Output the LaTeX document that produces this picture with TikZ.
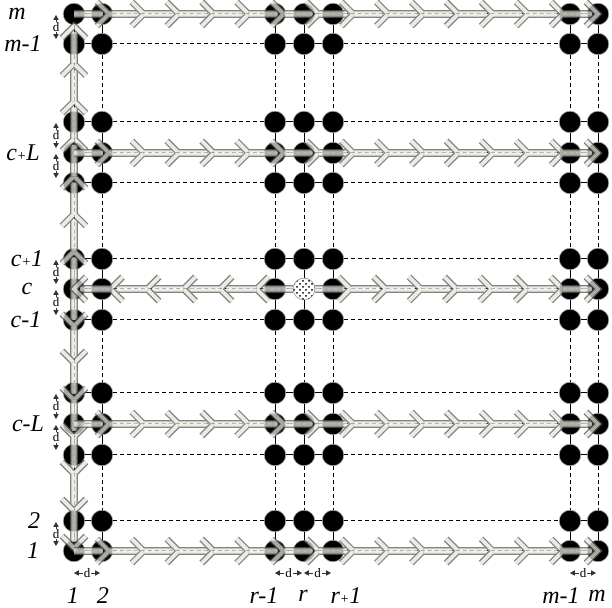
\documentclass[tikz,border=0pt]{standalone}
\usepackage{fontspec}
\setmainfont{Liberation Serif}
\usepackage{xcolor}
\usepackage{tikz}
\usetikzlibrary{calc,arrows.meta,patterns}

\definecolor{edgegray}{HTML}{5A5A5A}
\definecolor{shaftlight}{HTML}{E4E4DA}

\newcommand\smallplus{{\fontsize{7}{7}\selectfont +}}

% one piece of a hollow arrow, from (#1) to the tip (#2)
\newcommand\arrowpiece[2]{%
  \draw[shaftout] (#1) -- ($(#2)!3pt!(#1)$);
  \draw[shaftin] (#1) -- ($(#2)!3pt!(#1)$);
  \draw[shaftmid] (#1) -- ($(#2)!3pt!(#1)$);
  \draw[chevout] ($(#2)!8.5pt!45:(#1)$) -- (#2) -- ($(#2)!8.5pt!-45:(#1)$);
  \draw[chevin] ($(#2)!8.5pt!45:(#1)$) -- (#2) -- ($(#2)!8.5pt!-45:(#1)$);
}
% a run of #3 pieces from (#1) to (#2)
\newcommand\arrowrun[3]{%
  \begin{scope}[transparency group, opacity=0.75]
    \foreach \k [evaluate=\k as \p using (\k-1)/#3, evaluate=\k as \q using \k/#3] in {1,...,#3}{
      \coordinate (pa) at ($(#1)!\p!(#2)$);
      \coordinate (pb) at ($(#1)!\q!(#2)$);
      \arrowpiece{pa}{pb}
    }
  \end{scope}}

\begin{document}
\begin{tikzpicture}[x=0.5pt, y=-0.5pt]
    % Define styles
    \tikzstyle{dot} = [circle, fill=black, draw=gray!70, line width=0.3pt, minimum size=10.8pt, inner sep=0pt]
    \tikzstyle{link} = [line width=0.5pt, black]
    \tikzstyle{gap} = [line width=0.5pt, black, dash pattern=on 2pt off 1.5pt]
    \tikzstyle{shaftout} = [line width=3.8pt, edgegray]
    \tikzstyle{shaftin} = [line width=2.6pt, shaftlight]
    \tikzstyle{shaftmid} = [line width=0.5pt, white, dash pattern=on 2pt off 1.2pt]
    \tikzstyle{chevout} = [line width=3.2pt, edgegray, line join=miter]
    \tikzstyle{chevin} = [line width=1.9pt, shaftlight, line join=miter]
    \tikzstyle{dim} = [line width=0.4pt, gray!40!black, {Triangle[width=2.6pt,length=2.4pt]}-{Triangle[width=2.6pt,length=2.4pt]}]
    \tikzstyle{dlabel} = [fill=white, inner sep=0.4pt, font=\fontsize{6.5}{6.5}\selectfont, text=black]
    \tikzstyle{idx} = [font=\fontsize{12}{12}\selectfont\itshape]

    \useasboundingbox (0,0) rectangle (612,608);

    % Grid nodes
    \foreach \x [count=\i] in {74,102,275,304,333,570,598}
      \foreach \y [count=\j] in {14,44,122,153,183,259,289,320,393,424,455,521,551}
        \node[dot] (n-\i-\j) at (\x,\y) {};

    % Vertical links
    \foreach \i in {1,...,7}
      \foreach \j/\k/\s in {1/2/link,2/3/gap,3/4/link,4/5/link,5/6/gap,6/7/link,7/8/link,8/9/gap,9/10/link,10/11/link,11/12/gap,12/13/link}
        \draw[\s] (n-\i-\j) -- (n-\i-\k);
    % Horizontal links
    \foreach \j in {1,...,13}
      \foreach \i/\k/\s in {1/2/link,2/3/gap,3/4/link,4/5/link,5/6/gap,6/7/link}
        \draw[\s] (n-\i-\j) -- (n-\k-\j);

    % Arrow runs
    \coordinate (top) at ($(n-1-1)+(0,12)$);
    \coordinate (bot) at ($(n-1-13)+(0,-3)$);
    \coordinate (cw) at ($(n-4-7)+(-11,0)$);
    \coordinate (ce) at ($(n-4-7)+(11,0)$);
    \arrowrun{n-1-7}{top}{7}
    \arrowrun{n-1-7}{bot}{7}
    \arrowrun{cw}{n-1-7}{6}
    \arrowrun{ce}{n-7-7}{8}
    \foreach \j in {1,4,10,13}{
      \arrowrun{n-1-\j}{n-7-\j}{15}
    }

    % Centre node
    \node[dot, fill=white, postaction={pattern=crosshatch dots}] (cen) at (n-4-7) {};

    % Spacing marks
    \foreach \j/\k in {1/2,3/4,4/5,6/7,7/8,9/10,10/11,12/13}
      \draw[dim] ($(n-1-\j)+(-18,1)$) -- ($(n-1-\k)+(-18,-5)$) node[midway, dlabel] {d};
    \foreach \i/\k in {1/2,3/4,4/5,6/7}
      \draw[dim] ($(n-\i-13)+(0,22)$) -- ($(n-\k-13)+(-2,22)$) node[midway, dlabel] {d};

    % Row labels
    \foreach \j/\t/\x in {1/m/17,2/m-1/23,4/c\smallplus L/23,6/c\smallplus 1/27,7/c/27,8/c-1/26,10/c-L/28,12/2/34,13/1/33}
      \node[idx] at (\x,0 |- n-1-\j) {\t};
    % Column labels
    \foreach \i/\t/\x in {1/1/73,2/2/103,3/r-1/264,4/r/303,5/r\smallplus 1/346,6/m-1/561,7/m/597}
      \node[idx] at (\x,596) {\t};
\end{tikzpicture}
\end{document}
